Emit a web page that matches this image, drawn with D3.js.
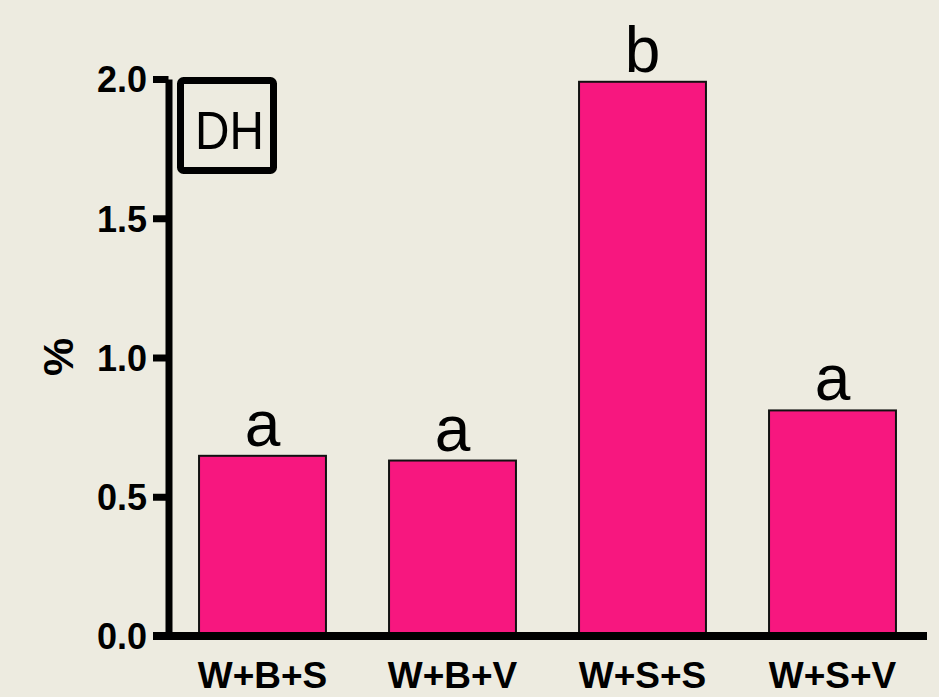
<!DOCTYPE html>
<html>
<head>
<meta charset="utf-8">
<script src="https://cdn.jsdelivr.net/npm/d3@7"></script>
<style>
    body { margin: 0; background: #edebe0; }
    svg { display: block; font-family: Arial, "Liberation Sans", sans-serif; }
</style>
</head>
<body>
<svg id="chart" width="939" height="697"></svg>
<script>
const categories = ["W+B+S", "W+B+V", "W+S+S", "W+S+V"];
const values = [0.647, 0.63, 1.99, 0.81];
const letters = ["a", "a", "b", "a"];
const yTicks = [0, 0.5, 1.0, 1.5, 2.0];

const svg = d3.select("#chart");

svg.append("rect")
    .attr("width", 939)
    .attr("height", 697)
    .attr("fill", "#edebe0");

const x = d3.scaleBand()
    .domain(categories)
    .range([167.5, 927.5])
    .paddingInner(0.332)
    .paddingOuter(0.166);

const y = d3.scaleLinear()
    .domain([0, 2])
    .range([636, 79]);

// bars
svg.append("g")
    .selectAll("rect")
    .data(values)
    .join("rect")
    .attr("x", (d, i) => x(categories[i]))
    .attr("y", d => y(d))
    .attr("width", x.bandwidth())
    .attr("height", d => y(0) - y(d))
    .attr("fill", "#f7177f")
    .attr("stroke", "#111")
    .attr("stroke-width", 2);

// significance letters
svg.append("g")
    .selectAll("text")
    .data(values)
    .join("text")
    .attr("x", (d, i) => x(categories[i]) + x.bandwidth() / 2)
    .attr("y", d => y(d) - 10)
    .attr("text-anchor", "middle")
    .attr("font-size", 64)
    .attr("fill", "#000")
    .text((d, i) => letters[i]);

// y axis
let yAxis = svg.append("g")
    .attr("transform", "translate(168.5,0)")
    .call(d3.axisLeft(y).tickValues(yTicks).tickFormat(d3.format(".1f"))
        .tickSize(15.5).tickSizeOuter(0).tickPadding(6));
yAxis.select(".domain").attr("stroke", "#000").attr("stroke-width", 7);
yAxis.selectAll(".tick line").attr("stroke", "#000").attr("stroke-width", 7);
yAxis.selectAll(".tick text")
    .attr("font-size", 36)
    .attr("font-weight", "bold")
    .attr("font-family", "Arial, 'Liberation Sans', sans-serif")
    .attr("fill", "#000")
    .attr("dy", "0.36em");

// x axis
let xAxis = svg.append("g")
    .attr("transform", "translate(0,636)")
    .call(d3.axisBottom(x).tickSize(0));
xAxis.select(".domain").attr("stroke", "#000").attr("stroke-width", 8)
    .attr("d", "M153,0H927");
xAxis.selectAll(".tick text")
    .attr("font-size", 37)
    .attr("font-weight", "bold")
    .attr("font-family", "Arial, 'Liberation Sans', sans-serif")
    .attr("fill", "#000")
    .attr("dy", "0")
    .attr("y", 52);

// y label
svg.append("text")
    .attr("transform", "translate(73,357) rotate(-90)")
    .attr("text-anchor", "middle")
    .attr("font-size", 43)
    .attr("font-weight", "bold")
    .attr("fill", "#000")
    .text("%");

// panel tag
svg.append("rect")
    .attr("x", 180.5)
    .attr("y", 80.5)
    .attr("width", 93)
    .attr("height", 90)
    .attr("rx", 3)
    .attr("fill", "none")
    .attr("stroke", "#000")
    .attr("stroke-width", 7);
svg.append("text")
    .attr("transform", "translate(229.5,149) scale(0.9,1)")
    .attr("text-anchor", "middle")
    .attr("font-size", 53)
    .attr("fill", "#000")
    .text("DH");
</script>
</body>
</html>
